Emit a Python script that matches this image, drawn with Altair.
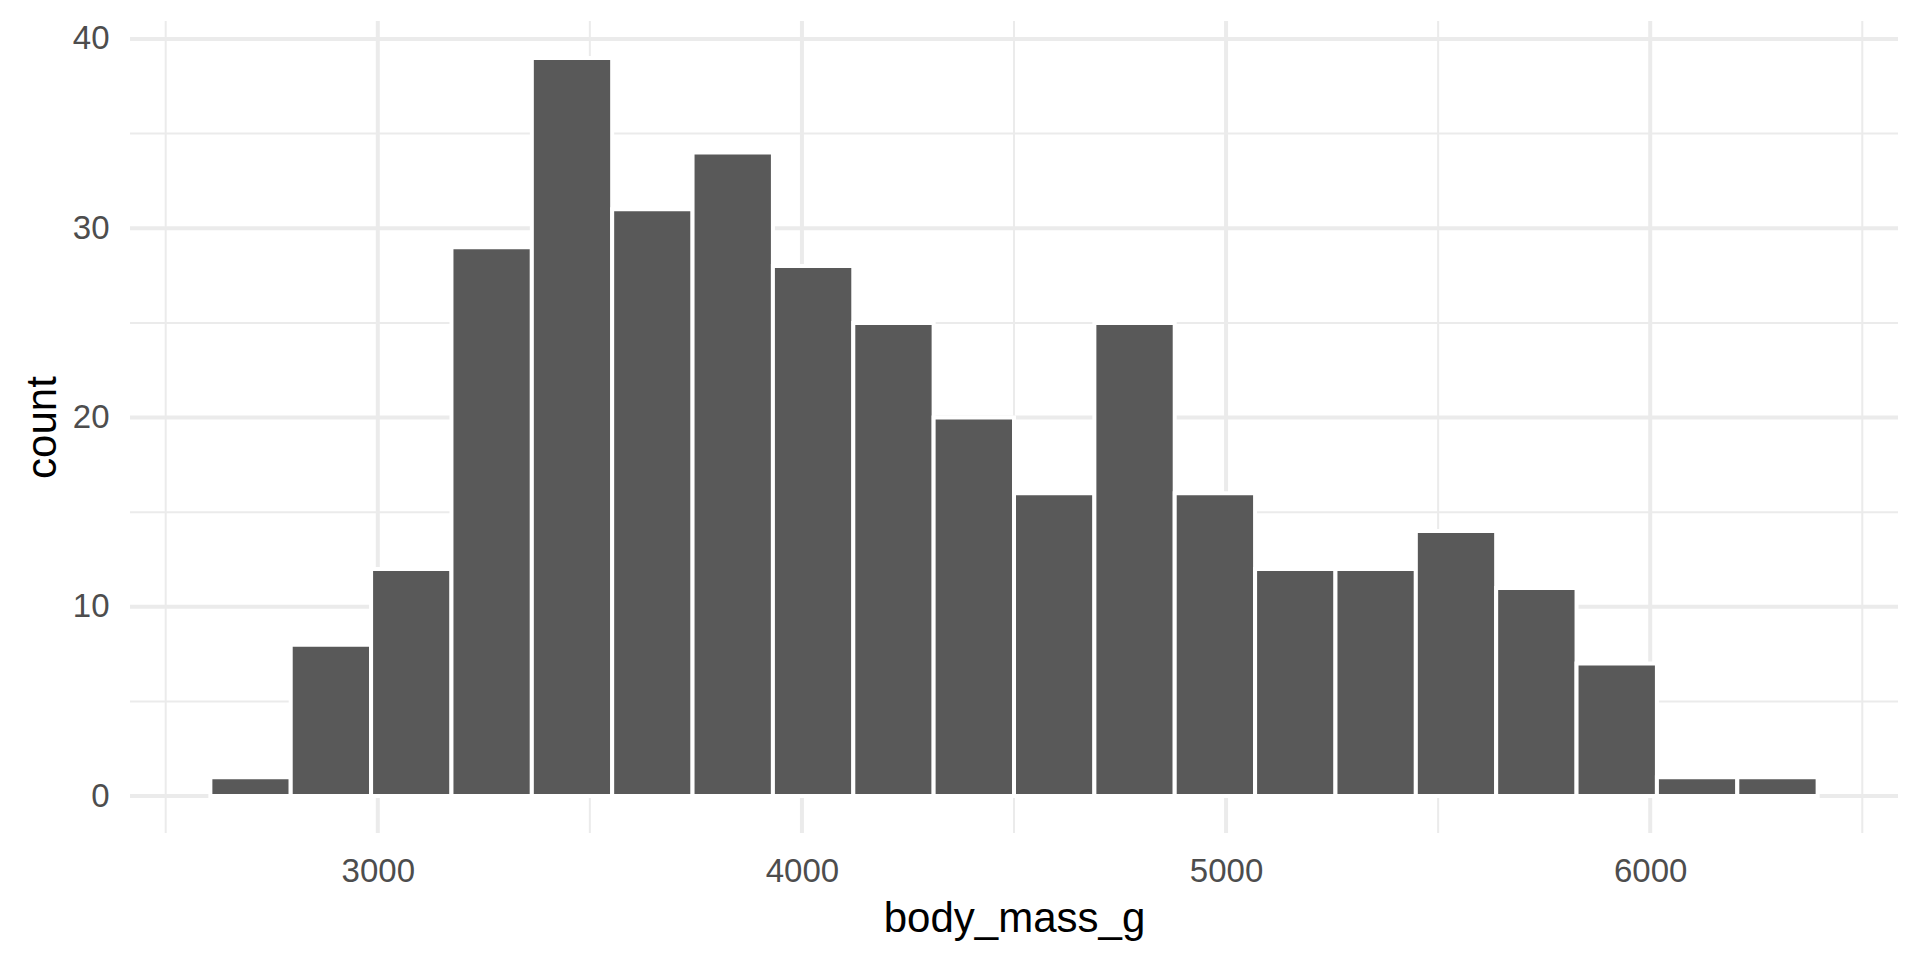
import altair as alt
import pandas as pd

# histogram bins (ggplot bins=20) and counts
bin_lo = [2605.3, 2794.7, 2984.2, 3173.7, 3363.2, 3552.6, 3742.1, 3931.6, 4121.1, 4310.5,
          4500.0, 4689.5, 4878.9, 5068.4, 5257.9, 5447.4, 5636.8, 5826.3, 6015.8, 6205.3]
bin_hi = [2794.7, 2984.2, 3173.7, 3363.2, 3552.6, 3742.1, 3931.6, 4121.1, 4310.5, 4500.0,
          4689.5, 4878.9, 5068.4, 5257.9, 5447.4, 5636.8, 5826.3, 6015.8, 6205.3, 6394.7]
counts = [1, 8, 12, 29, 39, 31, 34, 28, 25, 20, 16, 25, 16, 12, 12, 14, 11, 7, 1, 1]

x_major = [3000, 4000, 5000, 6000]
x_minor = [2500, 3500, 4500, 5500, 6500]
y_major = [0, 10, 20, 30, 40]
y_minor = [5, 15, 25, 35]

bars_df = pd.DataFrame({"lo": bin_lo, "hi": bin_hi, "count": counts})

xscale = alt.Scale(domain=[2415.8, 6584.2], nice=False, zero=False)
yscale = alt.Scale(domain=[-1.95, 40.95], nice=False, zero=False)

xaxis = alt.Axis(values=x_major, title="body_mass_g", grid=False, ticks=False,
                 domain=False, labelPadding=22, titlePadding=10, format="d")
yaxis = alt.Axis(values=y_major, title="count", grid=False, ticks=False,
                 domain=False, labelPadding=21, titlePadding=8, format="d")

GRID = "#EBEBEB"

vminor = alt.Chart(pd.DataFrame({"v": x_minor})).mark_rule(color=GRID, strokeWidth=2).encode(
    x=alt.X("v:Q", scale=xscale, axis=xaxis))
vmajor = alt.Chart(pd.DataFrame({"v": x_major})).mark_rule(color=GRID, strokeWidth=4).encode(
    x=alt.X("v:Q", scale=xscale, axis=xaxis))
hminor = alt.Chart(pd.DataFrame({"h": y_minor})).mark_rule(color=GRID, strokeWidth=2).encode(
    y=alt.Y("h:Q", scale=yscale, axis=yaxis))
hmajor = alt.Chart(pd.DataFrame({"h": y_major})).mark_rule(color=GRID, strokeWidth=4).encode(
    y=alt.Y("h:Q", scale=yscale, axis=yaxis))

bars = alt.Chart(bars_df).mark_rect(fill="#595959", stroke="white", strokeWidth=4).encode(
    x=alt.X("lo:Q", scale=xscale, axis=xaxis),
    x2="hi:Q",
    y=alt.Y("count:Q", scale=yscale, axis=yaxis),
    y2=alt.datum(0),
)

chart = alt.layer(vminor, vmajor, hminor, hmajor, bars).properties(
    width=1768, height=812,
    autosize=alt.AutoSizeParams(type="none"),
    padding={"left": 122, "top": 13, "right": 14, "bottom": 119},
    background="white",
).configure_view(stroke=None).configure_axis(
    labelFont="Liberation Sans", labelFontSize=33, labelColor="#4D4D4D",
    titleFont="Liberation Sans", titleFontSize=42, titleColor="#000000",
    titleFontWeight="normal",
)

chart.save("out.html", embed_options={"renderer": "svg", "actions": False})
